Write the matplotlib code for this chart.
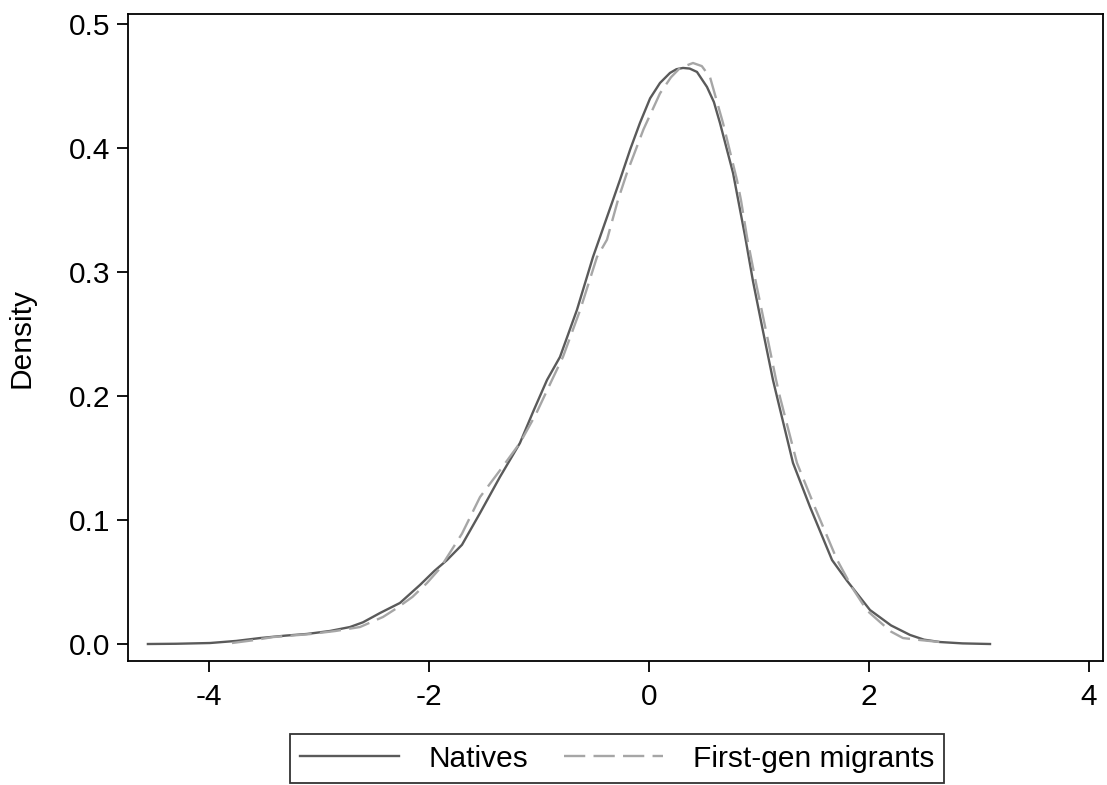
import matplotlib
matplotlib.use("Agg")
import matplotlib.pyplot as plt

plt.rcParams['font.family'] = ['Liberation Sans', 'DejaVu Sans']
plt.rcParams['axes.unicode_minus'] = False

# kernel density: Natives
natives_x = [-4.555, -4.300, -3.991, -3.750, -3.536, -3.300, -3.109, -2.900,
             -2.718, -2.600, -2.445, -2.264, -2.082, -1.950, -1.836, -1.700,
             -1.536, -1.355, -1.173, -1.050, -0.927, -0.809, -0.655, -0.509,
             -0.327, -0.264, -0.170, -0.082, 0.010, 0.100, 0.191, 0.250,
             0.309, 0.370, 0.436, 0.527, 0.590, 0.645, 0.764, 0.873,
             0.945, 1.036, 1.127, 1.164, 1.309, 1.464, 1.664, 1.800,
             2.009, 2.200, 2.373, 2.500, 2.645, 2.850, 3.100]
natives_y = [0.0, 0.0002, 0.0008, 0.0025, 0.0048, 0.0068, 0.0081, 0.0105,
             0.0137, 0.0175, 0.0250, 0.0331, 0.0476, 0.0590, 0.0677, 0.0800,
             0.1056, 0.1347, 0.1621, 0.1880, 0.2129, 0.2315, 0.2694, 0.3121,
             0.3581, 0.3742, 0.3990, 0.4202, 0.4400, 0.4524, 0.4605, 0.4635,
             0.4645, 0.4640, 0.4613, 0.4492, 0.4370, 0.4202, 0.3798, 0.3290,
             0.2927, 0.2524, 0.2129, 0.1992, 0.1460, 0.1105, 0.0677, 0.0510,
             0.0274, 0.0150, 0.0073, 0.0035, 0.0016, 0.0005, 0.0]

# First-gen migrants
migrants_x = [-3.791, -3.600, -3.418, -3.082, -2.850, -2.627, -2.418, -2.291,
              -2.150, -2.018, -1.900, -1.700, -1.536, -1.355, -1.173, -1.030,
              -0.882, -0.782, -0.627, -0.473, -0.382, -0.282, -0.200, -0.050,
              0.100, 0.200, 0.282, 0.400, 0.480, 0.555, 0.673, 0.800,
              0.836, 0.891, 0.973, 1.064, 1.155, 1.191, 1.345, 1.509,
              1.709, 1.850, 1.982, 2.100, 2.200, 2.309, 2.464, 2.645]
migrants_y = [0.0008, 0.0030, 0.0056, 0.0080, 0.0105, 0.0137, 0.0218, 0.0290,
              0.0380, 0.0492, 0.0610, 0.0890, 0.1185, 0.1400, 0.1621, 0.1850,
              0.2129, 0.2315, 0.2690, 0.3120, 0.3260, 0.3580, 0.3800, 0.4150,
              0.4440, 0.4570, 0.4645, 0.4685, 0.4660, 0.4570, 0.4200, 0.3740,
              0.3580, 0.3280, 0.2910, 0.2524, 0.2130, 0.1990, 0.1460, 0.1100,
              0.0680, 0.0450, 0.0270, 0.0177, 0.0100, 0.0048, 0.0032, 0.0016]

x_ticks = [-4, -2, 0, 2, 4]
y_ticks = [0.0, 0.1, 0.2, 0.3, 0.4, 0.5]

fig = plt.figure(figsize=(11.07, 7.85), dpi=100)
ax = fig.add_axes([128 / 1107, 124 / 785, 975 / 1107, 647 / 785])

ax.plot(natives_x, natives_y, color='#5a5a5a', lw=1.7, label='Natives',
        solid_joinstyle='round')
ax.plot(migrants_x, migrants_y, color='#a6a6a6', lw=1.7,
        linestyle=(0, (9, 3.5)), label='First-gen migrants')

ax.set_xlim(-4.736, 4.127)
ax.set_ylim(-0.0137, 0.508)
ax.set_xticks(x_ticks)
ax.set_xticklabels([str(t) for t in x_ticks])
ax.set_yticks(y_ticks)
ax.set_yticklabels([f'{t:.1f}' for t in y_ticks])

for s in ax.spines.values():
    s.set_linewidth(1.3)
    s.set_color('black')
ax.tick_params(axis='both', direction='out', length=8, width=1.3,
               labelsize=21.5, colors='black')
ax.tick_params(axis='x', pad=8)
ax.tick_params(axis='y', pad=5)
ax.set_ylabel('Density', fontsize=21.5, labelpad=24)

leg = fig.legend(loc='lower center', bbox_to_anchor=(617 / 1107, 2 / 785),
                 ncol=2, fontsize=21.5, frameon=True, fancybox=False,
                 handlelength=3.3, columnspacing=1.2, handletextpad=1.0,
                 borderpad=0.35, borderaxespad=0.0, edgecolor='black')
leg.get_frame().set_linewidth(1.3)

fig.savefig('out.png', dpi=100, facecolor='white')
